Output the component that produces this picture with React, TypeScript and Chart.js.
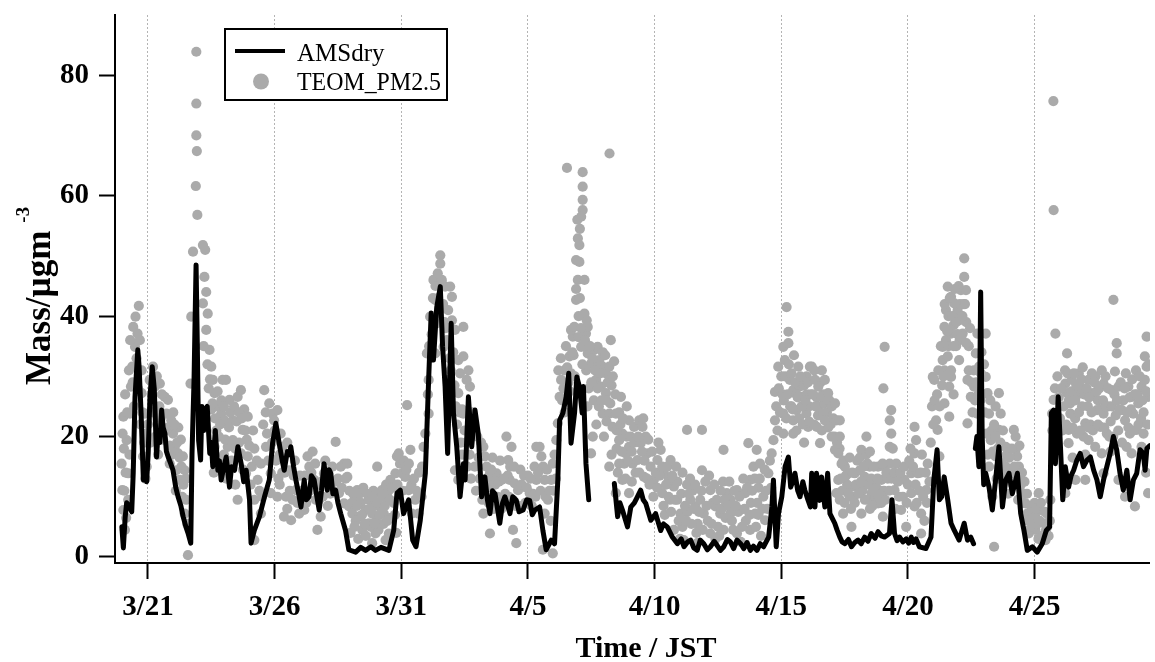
import React, { useEffect, useRef } from 'react';
import { Chart, registerables } from 'chart.js';

Chart.register(...registerables);

// x values are days counted from March 0 (3/21 = 21, 4/1 = 32, 4/25 = 56)
const xTickDays = [21, 26, 31, 36, 41, 46, 51, 56];
const xTickLabels = ['3/21', '3/26', '3/31', '4/5', '4/10', '4/15', '4/20', '4/25'];
const yTickValues = [0, 20, 40, 60, 80];

const seriesNames = ['AMSdry', 'TEOM_PM2.5'];

// AMSdry: [day, mass]; null marks a data gap
const amsPoints: [number, number | null][] = [
  [19.97, 5.0], [20.03, 1.5], [20.1, 6.5], [20.16, 9.0], [20.25, 8.5], [20.36, 7.5], [20.42, 14], [20.49, 26.6], [20.6, 34.4], [20.65, 31.7], [20.73, 23.9],
  [20.82, 12.8], [20.88, 14.0], [20.95, 12.5], [21.01, 17.2], [21.08, 26.6], [21.17, 31.6], [21.25, 28.0], [21.34, 16.6], [21.4, 20.5],
  [21.47, 19], [21.54, 24.4], [21.6, 21.5], [21.67, 20.5], [21.73, 17.5], [21.8, 16.6], [21.9, 15.5], [21.99, 14.4], [22.1, 11.5], [22.19, 10.0], [22.3, 8.5], [22.39, 6.7], [22.5, 5], [22.58, 4.0], [22.69, 2.3],
  [22.74, 17.2], [22.82, 29.4], [22.9, 48.5], [22.95, 34.9], [23.0, 19.4], [23.08, 16.1], [23.13, 25.0], [23.2, 21], [23.24, 24.4],
  [23.34, 25.0], [23.44, 17.2], [23.5, 19], [23.56, 15.0], [23.66, 21.0], [23.76, 14.4], [23.82, 16], [23.89, 12.8], [24.0, 15], [24.09, 16.6], [24.22, 11.6],
  [24.3, 15], [24.42, 14.4], [24.55, 18.3], [24.68, 15.5], [24.78, 12.5], [24.88, 14.4], [25.01, 9.5], [25.07, 2.3], [25.2, 4.4], [25.4, 6.7],
  [25.6, 10.0], [25.79, 12.8], [25.92, 18.9], [26.05, 22.2], [26.18, 18.9], [26.3, 16], [26.38, 14.4], [26.5, 17.5], [26.58, 17.0], [26.64, 18.3],
  [26.75, 15], [26.84, 12.8], [26.95, 10.5], [27.04, 8.3], [27.17, 12.8], [27.25, 9.5], [27.36, 10.0], [27.45, 13.5], [27.56, 12.8], [27.65, 10.5], [27.76, 7.8], [27.85, 11], [27.95, 15.5], [28.08, 11.1],
  [28.15, 14.5], [28.22, 13.9], [28.3, 10.5], [28.41, 11.1], [28.5, 9], [28.61, 7.2], [28.8, 4.4], [28.93, 1.2], [29.2, 0.8], [29.4, 1.6], [29.59, 1.1], [29.8, 1.7], [29.98, 1.1],
  [30.2, 1.6], [30.51, 1.1], [30.7, 4.4], [30.83, 10.6], [30.96, 11.1], [31.09, 7.2], [31.29, 9.5], [31.45, 2.8], [31.58, 1.7],
  [31.75, 6.1], [31.95, 13.9], [32.08, 29.4], [32.18, 40.5], [32.27, 32.7], [32.4, 41.5], [32.54, 44.9], [32.63, 35.0],
  [32.73, 28.3], [32.83, 17.2], [32.97, 38.8], [33.06, 23.9], [33.19, 18.3], [33.32, 10.0], [33.45, 15.5], [33.52, 12.8],
  [33.65, 26.6], [33.78, 18.3], [33.91, 24.4], [34.04, 20.5], [34.17, 10.0], [34.3, 13.3], [34.4, 9.5], [34.5, 7.2], [34.6, 11], [34.7, 10.5],
  [34.8, 8], [34.89, 5.6], [35.0, 9], [35.09, 10.0], [35.2, 8.5], [35.29, 7.2], [35.4, 10], [35.54, 9.4], [35.65, 7.5], [35.81, 7.8], [35.95, 9.5], [36.07, 9.4], [36.17, 7], [36.27, 7.8], [36.46, 8.3],
  [36.59, 4.4], [36.72, 1.2], [36.92, 2.8], [37.05, 2.2], [37.18, 12.8], [37.25, 22.7], [37.38, 23.9], [37.51, 26.6],
  [37.61, 30.5], [37.7, 18.9], [37.84, 23.9], [37.93, 29.9], [38.03, 28.3], [38.14, 23.9], [38.19, 28.3], [38.29, 15.5],
  [38.4, 9.5], [38.9, null],
  [39.41, 12.2], [39.54, 6.7], [39.63, 9], [39.73, 7.8], [39.93, 5.0], [40.06, 8.3], [40.2, 9], [40.32, 10.0], [40.45, 11.1], [40.55, 9.5], [40.65, 8.9],
  [40.85, 6.1], [41.04, 7.2], [41.24, 4.4], [41.35, 5.5], [41.5, 5.0], [41.7, 3.3], [41.9, 2.2], [42.05, 3], [42.16, 1.7], [42.3, 2.5], [42.42, 2.8],
  [42.55, 1.5], [42.68, 1.1], [42.8, 2.8], [42.94, 2.2], [43.08, 1.2], [43.2, 1.7], [43.35, 2.6], [43.47, 1.9], [43.6, 1.1], [43.73, 1.7], [43.87, 2.9], [43.99, 2.5], [44.12, 1.4], [44.25, 2.8], [44.4, 2.2], [44.52, 1.4],
  [44.65, 2.4], [44.78, 1.1], [44.9, 1.8], [45.04, 1.1], [45.17, 2.2], [45.3, 1.7], [45.5, 3.3], [45.63, 8.3], [45.69, 12.8], [45.8, 1.7], [45.89, 7.2],
  [46.02, 10.0], [46.15, 15.0], [46.28, 16.6], [46.37, 11.6], [46.45, 12.5], [46.54, 13.9], [46.65, 11], [46.74, 10.0], [46.85, 12.5], [46.93, 11.1], [47.05, 9.5], [47.15, 8.3],
  [47.2, 13.9], [47.33, 8.3], [47.39, 13.9], [47.52, 9.4], [47.59, 13.3], [47.72, 8.3], [47.83, 13.9], [47.92, 7.2],
  [48.11, 5.6], [48.2, 4.5], [48.31, 3.3], [48.4, 2.5], [48.51, 2.2], [48.65, 2.9], [48.77, 1.7], [48.9, 2.4], [49.03, 2.8], [49.15, 2.2], [49.29, 3.3], [49.42, 2.6], [49.55, 3.9], [49.7, 3.1], [49.82, 4.2],
  [49.95, 3.5], [50.08, 3.3], [50.27, 3.9], [50.37, 9.5], [50.47, 3.9], [50.57, 2.7], [50.67, 3.3], [50.8, 2.5], [50.93, 3.0], [51.03, 2.3], [51.13, 3.3], [51.22, 2.4], [51.32, 3.0],
  [51.45, 1.7], [51.71, 1.4], [51.91, 3.3], [52.02, 12.8], [52.15, 17.8], [52.24, 9.5], [52.33, 10.0], [52.43, 13.3],
  [52.57, 9.5], [52.7, 5.6], [52.83, 4.4], [53.02, 2.8], [53.22, 5.6], [53.35, 2.8], [53.48, 3.3], [53.59, 2.2],
  [53.62, null],
  [53.66, 18.0], [53.72, 20.0], [53.8, 15.0], [53.87, 44.0], [53.93, 20.0], [53.99, 12.0], [54.07, 13.9], [54.2, 11.6],
  [54.33, 7.8], [54.46, 12.8], [54.59, 18.3], [54.73, 8.3], [54.86, 12.8], [54.99, 13.9], [55.12, 10.5], [55.32, 13.9],
  [55.45, 7.2], [55.58, 4.4], [55.71, 1.1], [55.91, 1.7], [56.1, 0.8], [56.3, 2.2], [56.46, 4.4], [56.59, 5.0],
  [56.66, 23.9], [56.75, 24.4], [56.82, 15.5], [56.93, 26.6], [57.02, 18.3], [57.11, 9.5], [57.21, 15.0], [57.34, 11.6],
  [57.44, 13.5], [57.54, 14.4], [57.67, 16.1], [57.8, 17.2], [57.93, 15.0], [58.07, 16.1], [58.2, 16.6], [58.33, 14.4], [58.46, 12.8],
  [58.59, 10.0], [58.72, 12.8], [58.85, 15.0], [58.98, 17.2], [59.11, 20.0], [59.24, 17.8], [59.37, 13.9], [59.5, 11.1],
  [59.64, 14.4], [59.77, 9.5], [59.9, 12.8], [60.03, 13.9], [60.16, 17.8], [60.29, 17.2], [60.36, 14.4], [60.43, 18.0],
  [60.55, 18.5],
];

// TEOM_PM2.5: [day, mass]
const teomPoints: [number, number][] = [
  [20.03, 23.3], [19.96, 15.5], [19.99, 11.1], [20.03, 7.8], [20.09, 4.5], [20.16, 19.4], [20.22, 13.9], [20.22, 9.5],
  [20.29, 23.8], [20.33, 28.3], [20.38, 31.6], [20.42, 38.2], [20.51, 39.9], [20.64, 41.7], [20.59, 37.1], [20.49, 34.9],
  [20.68, 36.0], [20.75, 31.0], [20.75, 27.2], [20.88, 23.8], [20.94, 20.5], [20.81, 16.7], [20.9, 13],
  [20.05, 18], [20.1, 27], [20.12, 14], [20.18, 24], [20.25, 31], [20.27, 17], [20.3, 36], [20.4, 29], [20.45, 25],
  [20.55, 33], [20.6, 28], [20.7, 22], [20.78, 24], [20.85, 19], [20.95, 15], [20.0, 20.5], [20.07, 11], [20.14, 6.5],
  [21.07, 29.4], [21.2, 31.6], [21.27, 28.3], [21.34, 23.8], [21.47, 28.8], [21.66, 26.6], [21.79, 26.1], [21.73, 23.8],
  [21.92, 22.7], [21.99, 20.5], [22.06, 18.3], [22.19, 17.2], [22.38, 16.7], [22.45, 14.4], [22.25, 12.8], [22.51, 9.5],
  [22.45, 7.2], [22.32, 15.0], [22.12, 14.4], [21.86, 15.5], [21.53, 21.6], [22.58, 0.3], [21.1, 19], [21.2, 24],
  [21.4, 17], [21.5, 23], [21.6, 19.5], [21.8, 21.5], [22.0, 24], [22.2, 21.5], [22.3, 19.5], [22.1, 11], [22.4, 12],
  [21.0, 22], [21.15, 27], [21.3, 20], [21.35, 30], [21.45, 25], [21.55, 27], [21.7, 21], [21.85, 18.5], [21.95, 17],
  [22.05, 22], [22.15, 19], [22.25, 16.5], [22.35, 10], [22.5, 13], [22.55, 5.5],
  [22.71, 39.9], [22.68, 28.8], [22.78, 50.7], [22.89, 61.6], [22.95, 56.8], [22.91, 83.9], [22.91, 75.3], [22.91, 70.0],
  [22.93, 67.4],
  [23.17, 51.8], [23.26, 51.0], [23.23, 46.5], [23.3, 44.0], [23.36, 40.4], [23.3, 37.7], [23.17, 42.1], [23.43, 34.4],
  [23.5, 31.6], [23.56, 29.4], [23.63, 27.2], [23.76, 25.0], [23.89, 23.8], [24.02, 22.7], [23.95, 29.4], [24.08, 29.4],
  [24.22, 26.1], [24.35, 22.7], [24.54, 26.6], [24.67, 27.7], [24.94, 23.3], [24.74, 21.1], [24.35, 19.4], [24.15, 18.3],
  [23.63, 18.3], [24.67, 17.2], [24.94, 16.7], [24.54, 9.5], [24.87, 13.9], [25.33, 12.8], [25.2, 9.5], [25.46, 7.2],
  [25.2, 2.8], [23.4, 28], [23.5, 24.5], [23.7, 21], [23.8, 20], [23.9, 26], [24.0, 17], [24.2, 21.5], [24.3, 16],
  [24.5, 22.5], [24.6, 19], [24.8, 24.5], [24.9, 19.5], [25.1, 15], [25.2, 18], [23.6, 14], [24.1, 13],
  [23.2, 35], [23.35, 32], [23.45, 29.5], [23.55, 25.5], [23.65, 23], [23.75, 27.5], [23.85, 22], [24.0, 25],
  [24.05, 19.5], [24.25, 24], [24.4, 25], [24.45, 18], [24.6, 24], [24.7, 23], [24.75, 14.5], [24.85, 21], [25.0, 18.5],
  [25.05, 12], [25.15, 21], [25.3, 16], [25.4, 11], [25.5, 10], [24.45, 12], [23.95, 15.5],
  [25.59, 27.7], [25.79, 25.5], [25.92, 23.8], [25.98, 22.7], [26.11, 24.4], [26.24, 20.5], [26.31, 18.3], [25.66, 18.3],
  [25.46, 15.5], [25.85, 13.9], [25.85, 10.6], [26.11, 10.0], [26.37, 6.7],
  [25.55, 22], [25.65, 24], [25.7, 20.5], [25.75, 16], [25.9, 19], [26.0, 21], [26.05, 16], [26.15, 13], [26.2, 17],
  [26.3, 14], [26.45, 10], [26.5, 8],
  [26.58, 14.4], [26.71, 9.5], [26.65, 6.1], [26.84, 11.1], [26.97, 7.2], [27.17, 7.8], [27.3, 16.7], [27.37, 15.0],
  [27.56, 12.8], [27.69, 4.5], [27.63, 9.5], [27.82, 6.7], [27.95, 13.9], [28.15, 12.8], [28.28, 15.0], [28.41, 19.1],
  [28.61, 15.0], [28.74, 15.5], [28.87, 15.5], [28.87, 13.3], [28.54, 10.6], [28.74, 8.9], [28.94, 8.4],
  [26.4, 14], [26.5, 19], [26.8, 16], [27.0, 13.5], [27.1, 10], [27.4, 11], [27.5, 17.5], [27.7, 12], [27.9, 10],
  [28.0, 16], [28.2, 10.5], [28.4, 12.5], [26.2, 12],
  [26.6, 11], [26.75, 13.5], [26.9, 9], [27.05, 11], [27.2, 13.5], [27.25, 9], [27.45, 14], [27.6, 15.5], [27.75, 9.5],
  [27.85, 12.5], [28.05, 13], [28.1, 8.5], [28.3, 11], [28.5, 13], [28.65, 11.5], [28.8, 13], [28.95, 11],
  [29.07, 7.2], [29.2, 9.5], [29.26, 11.1], [29.33, 6.7], [29.46, 4.5], [29.59, 7.8], [29.72, 5.6], [29.85, 7.2],
  [29.98, 3.9], [30.05, 15.0], [30.11, 10.6], [30.24, 11.1], [30.31, 7.2], [30.44, 9.5], [30.51, 3.9], [30.38, 2.8],
  [29.85, 2.3], [30.57, 12.8], [30.77, 13.9], [30.83, 16.7], [30.9, 17.2], [31.03, 13.9], [31.23, 25.2], [31.16, 13.3],
  [31.36, 17.8], [31.29, 11.1], [31.55, 9.5], [31.42, 7.2], [31.68, 7.2], [31.82, 15.0], [31.88, 18.3], [31.95, 20.5],
  [29.0, 4], [29.1, 10.5], [29.3, 3], [29.4, 9], [29.5, 11.5], [29.6, 3.5], [29.7, 9.5], [29.8, 5], [29.9, 11],
  [30.0, 6], [30.1, 4.5], [30.2, 8], [30.3, 5.5], [30.4, 12], [30.6, 6.5], [30.7, 9], [30.8, 4], [29.2, 6], [29.9, 8.5],
  [29.05, 9], [29.15, 5], [29.25, 8.5], [29.35, 10.5], [29.45, 7], [29.55, 5.5], [29.65, 10.5], [29.75, 8], [29.85, 10],
  [29.95, 5.5], [30.05, 9], [30.15, 7], [30.25, 10], [30.35, 8.5], [30.45, 6], [30.5, 11], [30.55, 9.5], [30.65, 11.5],
  [30.75, 7], [30.85, 12], [30.95, 15.5], [31.05, 11], [31.1, 16], [31.2, 14.5], [31.3, 15.5], [31.4, 12], [31.5, 13],
  [31.6, 11], [31.7, 14], [31.8, 10],
  [32.08, 29.4], [32.14, 39.9], [32.27, 46.0], [32.44, 47.1], [32.54, 50.1], [32.54, 48.7], [32.34, 42.7], [32.4, 38.8],
  [32.34, 33.8], [32.08, 23.8], [32.01, 33.8], [32.73, 44.9], [32.93, 44.9], [33.0, 43.2], [32.8, 36.0], [32.67, 34.9],
  [32.86, 29.4], [33.0, 39.3], [33.12, 37.7], [33.25, 32.7], [33.32, 30.5], [33.12, 14.4], [33.25, 27.2], [33.25, 12.8],
  [32.05, 27], [32.1, 35], [32.2, 37], [32.25, 43], [32.3, 40], [32.35, 45], [32.45, 43], [32.5, 41], [32.6, 46],
  [32.65, 42], [32.7, 39], [32.75, 38], [32.85, 41], [32.9, 33], [32.95, 31], [33.05, 34], [33.1, 28.5], [33.15, 25],
  [33.2, 22], [33.3, 24], [33.35, 19], [33.4, 17],
  [33.45, 38.2], [33.45, 33.3], [33.65, 31.0], [33.71, 28.3], [33.58, 29.4], [33.45, 23.8], [33.84, 20.5], [34.24, 18.3],
  [34.3, 16.7], [34.37, 15.0], [34.5, 13.9], [34.63, 12.8], [34.76, 13.9], [35.15, 20.0], [35.35, 18.3], [35.22, 16.1],
  [34.96, 12.8], [35.28, 12.8], [35.48, 12.2], [35.61, 11.1], [35.81, 11.7], [36.07, 10.6], [36.26, 15.0], [36.33, 18.3],
  [36.46, 18.3], [36.53, 16.7], [36.33, 12.8], [36.66, 12.8], [36.79, 9.5], [36.92, 12.8], [36.98, 15.5], [34.5, 3.9],
  [35.54, 2.3], [36.59, 1.2], [36.98, 0.6], [35.41, 4.5], [36.66, 7.2], [34.24, 7.2],
  [33.4, 24.5], [33.5, 21], [33.7, 17], [33.9, 15], [34.0, 20], [34.1, 13], [34.4, 11.5], [34.6, 16.5], [34.8, 10],
  [34.9, 16], [35.0, 9], [35.2, 13.5], [35.4, 9.5], [35.7, 14.5], [35.9, 9], [36.0, 13.5], [36.2, 10.5],
  [33.55, 19], [33.6, 15], [33.75, 13], [33.8, 24], [33.95, 11], [34.05, 16.5], [34.15, 19], [34.2, 9.5], [34.35, 12.5],
  [34.45, 9], [34.55, 14.5], [34.65, 8], [34.7, 12], [34.85, 12.5], [34.95, 8], [35.05, 13], [35.1, 10.5], [35.25, 10],
  [35.3, 15], [35.45, 15], [35.5, 8.5], [35.65, 8.5], [35.75, 12], [35.85, 13.5], [35.95, 11.5], [36.1, 13], [36.15, 8.5],
  [36.3, 10], [36.4, 14], [36.5, 11], [36.6, 15], [36.7, 10], [36.75, 14.5], [36.85, 11], [36.9, 6], [37.0, 11],
  [37.05, 17], [37.1, 13],
  [37.12, 19.4], [37.18, 22.2], [37.25, 26.6], [37.31, 29.4], [37.44, 31.0], [37.64, 33.3], [37.77, 36.6], [37.7, 37.7],
  [37.83, 38.2], [37.9, 42.7], [37.97, 46.0], [37.9, 49.3], [38.03, 49.0], [37.97, 52.9], [38.03, 51.8], [38.16, 57.6],
  [38.16, 59.3], [38.16, 61.5], [38.1, 56.5], [38.23, 46.0], [38.23, 40.4], [38.32, 39.3], [38.29, 37.1], [38.36, 33.8],
  [38.49, 32.1], [38.62, 34.4], [38.75, 34.9], [38.82, 32.7], [38.95, 31.6], [39.08, 30.5], [39.21, 31.6], [39.27, 36.0],
  [38.69, 29.4], [38.88, 28.3], [39.08, 27.2], [38.95, 23.8], [39.21, 23.8], [39.47, 23.8], [39.67, 26.6], [39.34, 21.6],
  [39.6, 19.4], [39.73, 20.5], [39.99, 22.7], [40.19, 21.6], [39.99, 18.3], [39.86, 17.2], [39.6, 15.5], [39.21, 15.0],
  [40.13, 15.5], [39.73, 12.8], [39.47, 10.6], [39.99, 10.6], [38.56, 20.0], [38.49, 17.2], [38.1, 34.9], [38.36, 38.2],
  [37.54, 64.6], [38.16, 63.9], [39.22, 67.0],
  [37.35, 26], [37.5, 35], [37.6, 29], [37.8, 33.5], [38.0, 40], [38.2, 35], [38.3, 31], [38.4, 28], [37.9, 44.5],
  [38.05, 54.5], [37.95, 56],
  [38.6, 26], [38.8, 25], [39.0, 20], [39.1, 26], [39.3, 28.5], [39.5, 18], [39.6, 24], [39.8, 15.5], [39.9, 20],
  [40.1, 12.5], [38.7, 31.5], [39.4, 32.5],
  [37.2, 31], [37.3, 33], [37.4, 28], [37.45, 24], [37.55, 31.5], [37.65, 27.5], [37.7, 30.5], [37.75, 34], [37.85, 30],
  [38.0, 36.5], [38.05, 43], [38.1, 38], [38.15, 32], [38.25, 36], [38.35, 25], [38.45, 35], [38.5, 29], [38.55, 33],
  [38.65, 31], [38.7, 22], [38.75, 28], [38.85, 30.5], [38.9, 26], [38.95, 34], [39.05, 33.5], [39.1, 22.5], [39.15, 29],
  [39.25, 25.5], [39.3, 17], [39.35, 30], [39.45, 27], [39.5, 21], [39.55, 14], [39.65, 22], [39.7, 17.5], [39.75, 23],
  [39.85, 13], [39.9, 25], [39.95, 16], [40.05, 20], [40.1, 17.5], [40.2, 19], [40.25, 14],
  [40.39, 22.7], [40.52, 21.6], [40.65, 20.0], [40.45, 18.9], [40.32, 16.1], [40.71, 17.2], [40.58, 13.3], [40.84, 15.0],
  [40.97, 12.8], [41.24, 17.8], [41.11, 16.1], [41.37, 13.9], [41.63, 16.1], [41.56, 12.8], [41.3, 10.6], [41.76, 11.7],
  [41.89, 9.5], [42.02, 7.2], [42.28, 21.1], [42.87, 21.1], [42.28, 12.0], [42.41, 9.5], [42.61, 8.4], [42.87, 14.4],
  [42.94, 7.2], [43.2, 11.1], [43.4, 8.4], [43.59, 7.2], [43.72, 17.8], [43.85, 10.6], [43.99, 7.2], [44.25, 11.1],
  [44.38, 7.8], [44.57, 10.6], [44.7, 18.9], [44.77, 12.8], [44.9, 15.0], [45.03, 17.8], [45.16, 15.5], [44.97, 7.2],
  [44.77, 4.5], [44.25, 3.9], [43.72, 4.5], [43.2, 3.9], [42.68, 2.3], [42.15, 2.8], [41.76, 4.5], [45.29, 10.0],
  [45.36, 6.1], [45.49, 13.9], [45.62, 17.2], [45.69, 19.4],
  [41.4, 7], [41.6, 9.5], [41.9, 12.5], [42.1, 5], [42.3, 7.5], [42.5, 11], [42.7, 5.5], [42.8, 9.5], [43.0, 12.5],
  [43.1, 6], [43.3, 9], [43.5, 5], [43.6, 11], [43.8, 6.5], [44.0, 9.5], [44.1, 4.5], [44.3, 7.5], [44.5, 13], [44.6, 6],
  [44.8, 9], [45.0, 5], [45.1, 11.5], [45.2, 3.5], [42.0, 3], [43.4, 3], [44.4, 2.5],
  [40.35, 20], [40.4, 14], [40.5, 17.5], [40.55, 23], [40.6, 16], [40.7, 13], [40.75, 19.5], [40.8, 12], [40.9, 17.5],
  [40.95, 10], [41.05, 14], [41.1, 11.5], [41.15, 19], [41.2, 13.5], [41.3, 15], [41.35, 8.5], [41.45, 12], [41.5, 15],
  [41.55, 10], [41.65, 7.5], [41.7, 13.5], [41.8, 9.5], [41.85, 15], [41.95, 6], [42.05, 10.5], [42.1, 14], [42.2, 8.5],
  [42.25, 6], [42.35, 10.5], [42.4, 13], [42.45, 5.5], [42.55, 8], [42.6, 12], [42.65, 4], [42.75, 7.5], [42.85, 11],
  [42.9, 4.5], [43.05, 8.5], [43.15, 13.5], [43.25, 5.5], [43.35, 12], [43.45, 9.5], [43.55, 3.5], [43.65, 8],
  [43.7, 12.5], [43.75, 9.5], [43.9, 8.5], [43.95, 12.5], [44.05, 6], [44.15, 11], [44.2, 8.5], [44.35, 10], [44.45, 5],
  [44.55, 8], [44.65, 11.5], [44.75, 7], [44.85, 11], [44.95, 13], [45.05, 9], [45.1, 7], [45.15, 13], [45.25, 8],
  [45.35, 14.5], [45.4, 11], [45.45, 8], [45.55, 16], [45.6, 11.5],
  [45.75, 22.7], [45.75, 27.4], [45.88, 31.6], [46.08, 34.9], [46.08, 20.5], [46.14, 32.7], [46.21, 41.5], [46.28, 37.4],
  [46.28, 35.5], [46.47, 20.5], [46.47, 22.7], [46.08, 23.8], [46.34, 29.4], [46.47, 27.7], [46.67, 31.6], [46.73, 28.3],
  [46.86, 26.6], [46.99, 23.8], [47.06, 21.6], [47.13, 31.6], [46.6, 24.4],
  [46.4, 25], [46.6, 21], [46.8, 29], [46.9, 19], [47.0, 27], [47.1, 25], [47.3, 22], [47.5, 25], [47.6, 31],
  [46.5, 33.5], [47.0, 30], [47.4, 26.5],
  [45.8, 25], [45.85, 21], [45.9, 28], [45.95, 24], [46.0, 30], [46.05, 27], [46.1, 26], [46.15, 30], [46.2, 23],
  [46.25, 27], [46.3, 32], [46.35, 25], [46.4, 30.5], [46.45, 24.5], [46.55, 29], [46.6, 27], [46.65, 26.5], [46.7, 23],
  [46.75, 30], [46.8, 25], [46.85, 22], [46.9, 28.5], [46.95, 26], [47.05, 29], [47.1, 22.5], [47.15, 27], [47.25, 27],
  [47.3, 31], [47.35, 25], [47.45, 23.5], [47.55, 29], [47.6, 21], [47.65, 27], [47.7, 25.5], [47.8, 24], [47.85, 21.5],
  [47.9, 26], [47.95, 22], [48.05, 23], [48.1, 20], [48.2, 19], [48.3, 18],
  [47.2, 31.6], [47.33, 29.4], [47.46, 28.3], [47.59, 26.6], [47.72, 29.4], [47.66, 23.8], [47.85, 27.2], [47.99, 25.0],
  [48.12, 25.5], [48.18, 22.7], [48.31, 22.7], [47.99, 20.0], [48.31, 20.0], [47.53, 18.9], [47.72, 22.7], [47.4, 21.6],
  [48.12, 17.8], [48.25, 17.2], [48.38, 15.5], [48.51, 15.0], [48.64, 13.9], [48.25, 12.8], [48.18, 10.6], [48.31, 9.5],
  [48.44, 7.2], [48.71, 10.0], [48.84, 11.7], [48.9, 13.9], [49.16, 17.8], [49.36, 20.0], [49.1, 14.4], [49.29, 13.3],
  [49.49, 15.0], [49.69, 12.8], [49.82, 15.0], [49.95, 12.8], [50.08, 15.0], [49.56, 10.6], [49.82, 8.9], [49.16, 7.2],
  [49.42, 9.5], [50.01, 6.7], [48.77, 5.0], [50.08, 34.9], [50.03, 28.0], [50.34, 24.4], [50.28, 22.7], [50.34, 20.5],
  [50.28, 18.3], [50.28, 15.5], [50.54, 15.5], [50.47, 11.1], [50.86, 12.8], [50.73, 7.8], [50.93, 5.0],
  [48.6, 12], [48.9, 9], [49.0, 16], [49.2, 11], [49.4, 15.5], [49.5, 8], [49.7, 10], [49.9, 11], [50.1, 9.5], [50.2, 13],
  [48.35, 13], [48.4, 11], [48.45, 16], [48.5, 9], [48.55, 13.5], [48.65, 10.5], [48.7, 16.5], [48.75, 8], [48.8, 14],
  [48.85, 10], [48.95, 12], [49.05, 10.5], [49.1, 16.5], [49.15, 12.5], [49.25, 15], [49.3, 9.5], [49.35, 17],
  [49.45, 12], [49.5, 17.5], [49.55, 13], [49.6, 8.5], [49.65, 15], [49.75, 11.5], [49.8, 13], [49.85, 10], [49.95, 9],
  [50.0, 15.5], [50.05, 11], [50.15, 14], [50.25, 11], [50.35, 13], [50.4, 18], [50.45, 14], [50.5, 8], [50.6, 12.5],
  [50.65, 10], [50.7, 14], [50.8, 10], [50.85, 15], [50.95, 9], [51.0, 12], [51.05, 16],
  [51.26, 21.6], [51.32, 19.4], [51.26, 17.2], [51.13, 13.9], [51.39, 13.9], [51.13, 10.6], [51.26, 8.4], [51.52, 7.2],
  [51.52, 3.9], [51.72, 11.1], [51.78, 15.5], [52.04, 29.4], [51.98, 29.9], [52.11, 22.7], [52.17, 21.1], [52.24, 16.7],
  [52.44, 31.0], [52.37, 32.7], [52.37, 34.9], [52.44, 38.2], [52.5, 41.0], [52.57, 44.9], [52.7, 43.2], [52.83, 42.1],
  [52.96, 41.0], [53.02, 39.3], [53.09, 44.3], [53.22, 46.5], [53.22, 49.6], [53.29, 44.3], [53.16, 37.1], [53.04, 36.0],
  [52.7, 37.1], [52.57, 33.3], [52.7, 29.9], [52.63, 28.3], [52.44, 25.5], [52.63, 23.3], [53.02, 32.7], [53.35, 29.4],
  [53.35, 22.2], [53.48, 26.6], [53.61, 28.3], [53.68, 33.8], [53.74, 37.1], [53.81, 31.6], [53.74, 23.8], [53.88, 30.5],
  [52.5, 36], [52.6, 40], [52.8, 38.5], [52.9, 35], [53.0, 45], [53.1, 40], [53.2, 42], [53.3, 39], [52.7, 31],
  [52.8, 27], [53.4, 35],
  [51.1, 18], [51.2, 15], [51.3, 12], [51.35, 9], [51.45, 11], [51.5, 14], [51.55, 17], [51.6, 10], [51.65, 6],
  [51.7, 14], [51.75, 9], [51.85, 12.5], [51.9, 19], [51.95, 25], [52.0, 22],
  [52.05, 26], [52.15, 27], [52.2, 31], [52.25, 25], [52.3, 35], [52.35, 28.5], [52.4, 30], [52.45, 42], [52.55, 37.5],
  [52.6, 35], [52.65, 43], [52.75, 40], [52.8, 35], [52.85, 44.5], [52.9, 39], [52.95, 37], [53.05, 42], [53.1, 36.5],
  [53.15, 40], [53.25, 42], [53.3, 35.5], [53.4, 31], [53.45, 38], [53.5, 29], [53.55, 24], [53.6, 31], [53.65, 26],
  [53.7, 29], [53.78, 27], [53.85, 26], [53.9, 34], [53.95, 27], [54.0, 32], [54.02, 24],
  [54.07, 37.1], [54.07, 29.9], [54.14, 27.2], [54.2, 23.8], [54.27, 19.4], [54.46, 25.0], [54.59, 27.2], [54.66, 23.8],
  [54.59, 21.1], [54.86, 18.3], [54.46, 16.7], [54.2, 15.0], [54.33, 10.0], [54.72, 12.8], [54.86, 15.0], [55.05, 13.9],
  [55.18, 21.1], [55.25, 20.0], [55.25, 17.8], [55.38, 15.0], [55.31, 16.7], [55.38, 12.8], [55.51, 10.6], [55.64, 8.9],
  [55.71, 7.2], [55.9, 7.2], [56.03, 6.7], [56.16, 10.6], [56.23, 7.8], [56.03, 4.5], [55.77, 3.9], [56.36, 5.6],
  [56.49, 7.2], [56.62, 9.5], [56.43, 2.8], [54.4, 1.7],
  [55.5, 14], [55.6, 12.5], [55.8, 4.5], [56.0, 9], [56.3, 3.5], [56.5, 5], [55.4, 18.5],
  [54.1, 20.5], [54.15, 17], [54.25, 26], [54.3, 21], [54.35, 17.5], [54.4, 22], [54.45, 20], [54.5, 13], [54.55, 18],
  [54.6, 15], [54.65, 19], [54.7, 16], [54.75, 21], [54.8, 14], [54.9, 17], [54.95, 10.5], [55.0, 16.5], [55.1, 18],
  [55.15, 12], [55.2, 15], [55.3, 13.5], [55.35, 9.5], [55.45, 12], [55.55, 9], [55.6, 6.5], [55.7, 10.5], [55.75, 6],
  [55.85, 8.5], [55.95, 5], [56.05, 8], [56.1, 5.5], [56.15, 3], [56.2, 6], [56.25, 9], [56.35, 3], [56.4, 7.5],
  [56.45, 4.5], [56.55, 3.5], [56.6, 6],
  [56.69, 23.8], [56.75, 26.1], [56.82, 37.1], [56.75, 57.6], [56.74, 75.7],
  [57.28, 33.8], [57.21, 28.8], [57.28, 27.2], [57.47, 29.4], [57.41, 23.8], [57.54, 26.1], [57.34, 21.1], [57.34, 18.9],
  [57.74, 30.5], [57.8, 28.3], [57.87, 25.0], [58.0, 22.2], [57.93, 20.0], [58.13, 29.4], [58.26, 30.5], [58.32, 27.2],
  [58.46, 24.4], [58.59, 21.6], [58.65, 31.0], [58.72, 28.8], [58.72, 23.8], [58.85, 20.5], [58.91, 25.0], [59.04, 27.7],
  [59.11, 42.7], [59.24, 35.5], [59.24, 33.8], [59.17, 30.8], [59.31, 28.3], [59.44, 24.4], [59.57, 22.7], [59.7, 28.3],
  [59.83, 26.6], [59.89, 23.8], [59.76, 20.5], [59.63, 18.3], [59.83, 17.2], [60.03, 21.1], [60.09, 25.5], [60.22, 28.3],
  [60.35, 29.4], [60.42, 31.6], [60.42, 36.6], [60.35, 33.3], [60.48, 26.6], [60.22, 18.3], [59.96, 8.4], [60.48, 10.6],
  [59.57, 10.0], [59.31, 12.8], [58.0, 12.8], [57.61, 12.8], [57.21, 10.6], [58.65, 17.2], [58.39, 18.3], [58.13, 19.4],
  [57.67, 20.5], [58.72, 13.9],
  [57.1, 21], [57.4, 25.5], [57.6, 23], [57.7, 27], [57.9, 31.5], [58.1, 25], [58.2, 22], [58.4, 30], [58.5, 26],
  [58.8, 30], [59.0, 22.5], [59.3, 21], [59.5, 26], [59.6, 30.5], [59.8, 24.5], [60.0, 31], [60.2, 23], [60.3, 20.5],
  [60.4, 14], [58.0, 17], [59.0, 17.5], [57.5, 16.5],
  [56.7, 21], [56.8, 28], [56.85, 23], [56.9, 30], [56.95, 26.5], [57.0, 23], [57.05, 28], [57.15, 25], [57.2, 31],
  [57.25, 22], [57.3, 30.5], [57.35, 26], [57.45, 27.5], [57.5, 21.5], [57.55, 30.5], [57.6, 26], [57.65, 28.5],
  [57.75, 24], [57.8, 21], [57.85, 29.5], [57.95, 27], [58.05, 28], [58.1, 21.5], [58.15, 26.5], [58.25, 24], [58.3, 21],
  [58.35, 29], [58.45, 27.5], [58.5, 22], [58.55, 28], [58.6, 24.5], [58.7, 26], [58.75, 21.5], [58.8, 25], [58.9, 28],
  [58.95, 20], [59.05, 25], [59.1, 20], [59.15, 27], [59.2, 23.5], [59.25, 26], [59.35, 24.5], [59.4, 29], [59.45, 19],
  [59.55, 28], [59.65, 24], [59.7, 21.5], [59.75, 26.5], [59.85, 29.5], [59.9, 21], [59.95, 27], [60.05, 27], [60.1, 22],
  [60.15, 30], [60.25, 26], [60.3, 24], [60.4, 27.5], [60.45, 22], [60.5, 32],
];

const FONT = "'Liberation Serif', 'Times New Roman', serif";
const GRAY = '#aaaaaa';

const overlay = {
  id: 'overlay',
  afterDraw(chart: any) {
    const ctx = chart.ctx as CanvasRenderingContext2D;
    ctx.save();
    // legend
    ctx.font = `25px ${FONT}`;
    const bx = 225, by = 29, bw = 222, bh = 71;
    ctx.fillStyle = '#fff';
    ctx.fillRect(bx, by, bw, bh);
    ctx.strokeStyle = '#000';
    ctx.lineWidth = 2;
    ctx.strokeRect(bx, by, bw, bh);
    ctx.beginPath();
    ctx.moveTo(235, 51);
    ctx.lineTo(285, 51);
    ctx.lineWidth = 4;
    ctx.stroke();
    ctx.beginPath();
    ctx.arc(261, 81.5, 8, 0, Math.PI * 2);
    ctx.fillStyle = GRAY;
    ctx.fill();
    ctx.fillStyle = '#000';
    ctx.textBaseline = 'alphabetic';
    ctx.textAlign = 'left';
    ctx.fillText(seriesNames[0], 297, 61);
    ctx.fillText(seriesNames[1], 297, 90, 144);

    // x title
    ctx.font = `bold 30px ${FONT}`;
    ctx.textAlign = 'center';
    ctx.fillText('Time / JST', 646, 657);

    // y title
    ctx.translate(50, 385);
    ctx.rotate(-Math.PI / 2);
    ctx.textAlign = 'left';
    ctx.font = `bold 35px ${FONT}`;
    const tw = ctx.measureText('Mass/\u00B5gm').width;
    ctx.fillText('Mass/\u00B5gm', 0, 0);
    ctx.font = `bold 19px ${FONT}`;
    ctx.fillText('-3', tw + 8, -21);
    ctx.restore();
  },
};

export default function App() {
  const ref = useRef<HTMLCanvasElement | null>(null);
  useEffect(() => {
    if (!ref.current) return;
    const chart = new Chart(ref.current, {
      data: {
        datasets: [
          {
            type: 'line',
            label: seriesNames[0],
            data: amsPoints.map(([x, y]) => ({ x, y })),
            borderColor: '#000',
            borderWidth: 5,
            borderJoinStyle: 'round',
            borderCapStyle: 'round',
            pointRadius: 0,
            tension: 0,
            spanGaps: false,
            order: 0,
          } as any,
          {
            type: 'scatter',
            label: seriesNames[1],
            data: teomPoints.map(([x, y]) => ({ x, y })),
            backgroundColor: GRAY,
            borderWidth: 0,
            pointRadius: 5.1,
            order: 1,
          } as any,
        ],
      },
      options: {
        animation: false,
        responsive: false,
        maintainAspectRatio: false,
        layout: { padding: { top: 15, left: 0, right: 0, bottom: 0 } },
        plugins: { legend: { display: false }, tooltip: { enabled: false } },
        scales: {
          x: {
            type: 'linear',
            min: 19.7,
            max: 60.55,
            afterBuildTicks: (s: any) => {
              s.ticks = xTickDays.map((v) => ({ value: v }));
            },
            afterFit: (s: any) => {
              s.height = 99;
              s.paddingLeft = 0;
              s.paddingRight = 0;
            },
            ticks: {
              autoSkip: false,
              maxRotation: 0,
              padding: 11,
              color: '#000',
              font: { family: FONT, size: 29, weight: 'bold' },
              callback: (v: any) => {
                const i = xTickDays.indexOf(Number(v));
                return i >= 0 ? xTickLabels[i] : '';
              },
            },
            grid: {
              color: '#b4b4b4',
              lineWidth: 1,
              tickColor: '#000',
              tickWidth: 2,
              tickLength: 16,
              tickBorderDash: [],
            },
            border: { display: true, color: '#000', width: 2, dash: [2, 2] },
          },
          y: {
            type: 'linear',
            min: -1,
            max: 90,
            afterBuildTicks: (s: any) => {
              s.ticks = yTickValues.map((v) => ({ value: v }));
            },
            afterFit: (s: any) => {
              s.width = 115;
              s.paddingTop = 0;
              s.paddingBottom = 0;
            },
            ticks: {
              padding: 10,
              color: '#000',
              font: { family: FONT, size: 29, weight: 'bold' },
            },
            grid: {
              drawOnChartArea: false,
              tickColor: '#000',
              tickWidth: 2,
              tickLength: 16,
            },
            border: { display: true, color: '#000', width: 2 },
          },
        },
      } as any,
      plugins: [overlay],
    });
    return () => chart.destroy();
  }, []);
  return (
    <div style={{ position: 'fixed', left: 0, top: 0, width: 1155, height: 662, background: '#fff' }}>
      <canvas ref={ref} width={1155} height={662} style={{ display: 'block' }} />
    </div>
  );
}
